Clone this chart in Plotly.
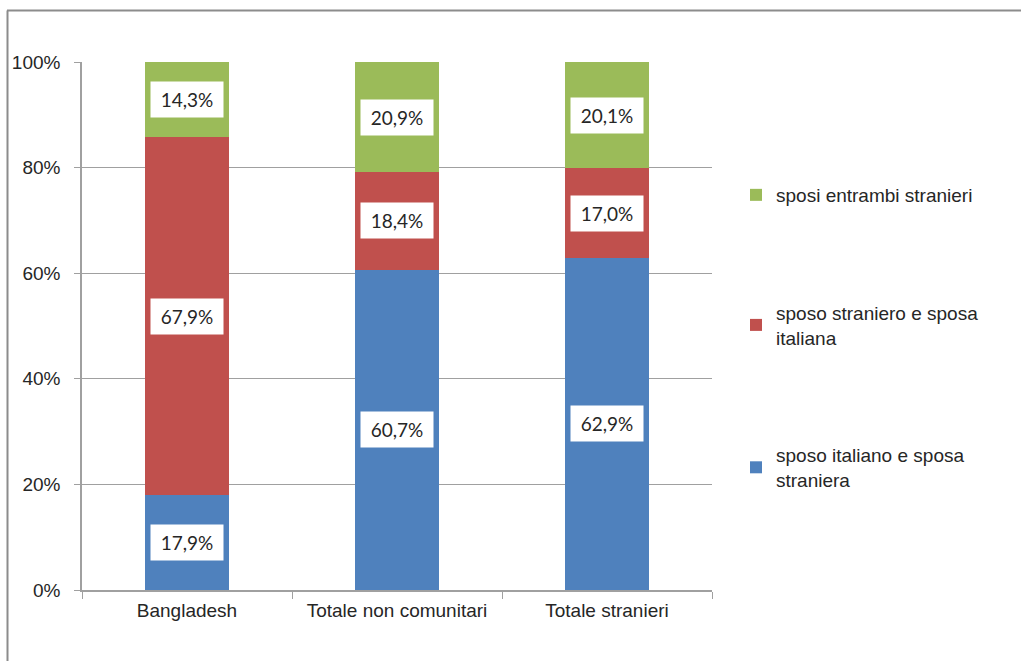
import plotly.graph_objects as go

categories = ["Bangladesh", "Totale non comunitari", "Totale stranieri"]
series_names = [
    "sposo italiano e sposa<br>straniera",
    "sposo straniero e sposa<br>italiana",
    "sposi entrambi stranieri",
]
italiano_straniera = [17.9, 60.7, 62.9]
straniero_italiana = [67.9, 18.4, 17.0]
entrambi_stranieri = [14.3, 20.9, 20.1]
series_values = [italiano_straniera, straniero_italiana, entrambi_stranieri]
colors = ["#4F81BD", "#C0504D", "#9BBB59"]
y_ticks = [0, 20, 40, 60, 80, 100]
y_tick_labels = ["0%", "20%", "40%", "60%", "80%", "100%"]

W, H = 1021, 661
ml, mr, mt, mb = 82, 309, 62, 71

fig = go.Figure()
for i, (name, vals, col) in enumerate(zip(series_names, series_values, colors)):
    fig.add_trace(go.Bar(
        x=categories, y=vals, name=name, marker_color=col,
        marker_line_width=0, legendgroup=f"g{i}", legendrank=3 - i,
        hoverinfo="skip",
    ))

# value labels (white boxes) at segment midpoints
annotations = []
for ci, cat in enumerate(categories):
    base = 0
    for vals in series_values:
        v = vals[ci]
        mid = base + v / 2
        annotations.append(dict(
            x=cat, y=mid, xref="x", yref="y",
            text=f"{v:.1f}%".replace(".", ","),
            showarrow=False, bgcolor="white",
            width=70, height=33,
            font=dict(family="Lato, Open Sans, sans-serif", size=19, color="#262626"),
        ))
        base += v

pw = W - ml - mr
ph = H - mt - mb
def px_x(px):
    return (px - ml) / pw
def px_y(py):
    return (H - mb - py) / ph

shapes = [
    dict(type="line", xref="paper", yref="paper",
         x0=px_x(7), x1=px_x(1021), y0=px_y(10.5), y1=px_y(10.5),
         line=dict(color="#8C8C8C", width=2)),
    dict(type="line", xref="paper", yref="paper",
         x0=px_x(7.5), x1=px_x(7.5), y0=px_y(10.5), y1=px_y(661),
         line=dict(color="#8C8C8C", width=2)),
]

tick_font = dict(family="Liberation Sans Narrow, Arial Narrow, Liberation Sans, sans-serif",
                 size=19, color="#262626")

fig.update_layout(
    width=W, height=H,
    margin=dict(l=ml, r=mr, t=mt, b=mb),
    barmode="stack", bargap=0.6,
    plot_bgcolor="white", paper_bgcolor="white",
    annotations=annotations, shapes=shapes,
    xaxis=dict(
        showline=True, linecolor="#A0A0A0", linewidth=1.5,
        ticks="outside", tickson="boundaries", ticklen=7, tickcolor="#A0A0A0",
        tickfont=tick_font, showgrid=False, ticklabelstandoff=2,
    ),
    yaxis=dict(
        range=[0, 100], tickvals=y_ticks, ticktext=y_tick_labels,
        showline=True, linecolor="#A0A0A0", linewidth=1.5,
        ticks="outside", ticklen=6, tickcolor="#A0A0A0",
        showgrid=True, gridcolor="#A0A0A0", gridwidth=1.2,
        tickfont=tick_font, zeroline=False, ticklabelstandoff=10,
    ),
    legend=dict(
        x=px_x(736), y=px_y(176), xanchor="left", yanchor="top",
        traceorder="grouped", tracegroupgap=90,
        font=dict(family="Liberation Sans Narrow, Arial Narrow, Liberation Sans, sans-serif",
                  size=19, color="#262626"),
        itemwidth=30, bgcolor="rgba(0,0,0,0)",
    ),
    showlegend=True,
)

fig.write_html("out.html", config={"displayModeBar": False},
               post_script="document.body.style.margin='0';")
